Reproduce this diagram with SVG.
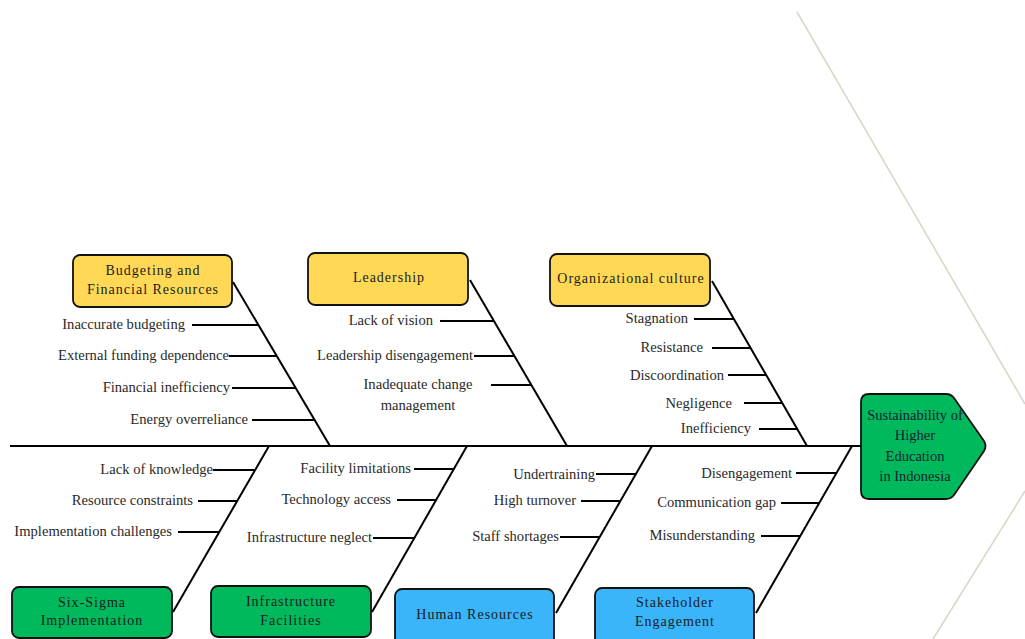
<svg xmlns="http://www.w3.org/2000/svg" width="1025" height="639" viewBox="0 0 1025 639">
  <style>
    .bone { stroke: #000; stroke-width: 2; fill: none; stroke-linecap: butt; }
    .tick { stroke: #000; stroke-width: 2; fill: none; }
    .box { stroke: #111; stroke-width: 1.8; }
    .yellow { fill: #FFD955; }
    .green { fill: #00B95C; }
    .blue { fill: #3AB5FA; }
    .cat { font-family: "Liberation Serif", "Times New Roman", serif; font-size: 14px; letter-spacing: 1px; fill: #1c1c1c; text-anchor: middle; }
    .sub { font-family: "Liberation Serif", "Times New Roman", serif; font-size: 14.6px; fill: #2a2a2a; text-anchor: end; }
    .subc { font-family: "Liberation Serif", "Times New Roman", serif; font-size: 14.6px; fill: #2a2a2a; text-anchor: middle; }
    .head { font-family: "Liberation Serif", "Times New Roman", serif; font-size: 14.5px; fill: #123; text-anchor: middle; }
    .deco { stroke: #DAD7C9; stroke-width: 1.6; fill: none; }
  </style>

  <rect width="1025" height="639" fill="#fff"/>

  <!-- background chevron strokes -->
  <g id="backdrop">
    <line class="deco" x1="797" y1="12" x2="1025" y2="404"/>
    <line class="deco" x1="933" y1="639" x2="1025" y2="491"/>
  </g>

  <!-- spine, bones and cause ticks -->
  <g id="connectors">
    <line class="bone" x1="10" y1="446" x2="861" y2="446"/>

    <!-- upper bones -->
    <line class="bone" x1="233" y1="282" x2="330" y2="446"/>
    <line class="bone" x1="470" y1="280" x2="567" y2="446"/>
    <line class="bone" x1="712" y1="281" x2="807" y2="446"/>

    <!-- lower bones -->
    <line class="bone" x1="173" y1="612" x2="269" y2="446"/>
    <line class="bone" x1="372" y1="612" x2="467" y2="446"/>
    <line class="bone" x1="556" y1="613" x2="652" y2="446"/>
    <line class="bone" x1="756" y1="613" x2="852" y2="446"/>

    <!-- budgeting ticks -->
    <line class="tick" x1="192" y1="325" x2="259" y2="325"/>
    <line class="tick" x1="229" y1="356" x2="277" y2="356"/>
    <line class="tick" x1="232" y1="388" x2="295" y2="388"/>
    <line class="tick" x1="252" y1="420" x2="314" y2="420"/>

    <!-- leadership ticks -->
    <line class="tick" x1="440" y1="321" x2="494" y2="321"/>
    <line class="tick" x1="474" y1="356" x2="514" y2="356"/>
    <line class="tick" x1="491" y1="385" x2="531" y2="385"/>

    <!-- organizational culture ticks -->
    <line class="tick" x1="694" y1="319" x2="734" y2="319"/>
    <line class="tick" x1="712" y1="348" x2="750" y2="348"/>
    <line class="tick" x1="728" y1="375" x2="766" y2="375"/>
    <line class="tick" x1="744" y1="403" x2="782" y2="403"/>
    <line class="tick" x1="759" y1="429" x2="797" y2="429"/>

    <!-- six-sigma ticks -->
    <line class="tick" x1="213" y1="470" x2="255" y2="470"/>
    <line class="tick" x1="198" y1="501" x2="237" y2="501"/>
    <line class="tick" x1="178" y1="532" x2="219" y2="532"/>

    <!-- infrastructure ticks -->
    <line class="tick" x1="414" y1="469" x2="454" y2="469"/>
    <line class="tick" x1="397" y1="500" x2="436" y2="500"/>
    <line class="tick" x1="373" y1="538" x2="414" y2="538"/>

    <!-- human resources ticks -->
    <line class="tick" x1="596" y1="474" x2="636" y2="474"/>
    <line class="tick" x1="581" y1="501" x2="621" y2="501"/>
    <line class="tick" x1="560" y1="537" x2="600" y2="537"/>

    <!-- stakeholder ticks -->
    <line class="tick" x1="796" y1="473" x2="836" y2="473"/>
    <line class="tick" x1="781" y1="503" x2="819" y2="503"/>
    <line class="tick" x1="761" y1="536" x2="800" y2="536"/>
  </g>

  <!-- cause labels -->
  <g id="causes">
    <text class="sub" x="185" y="329">Inaccurate budgeting</text>
    <text class="sub" x="229" y="360">External funding dependence</text>
    <text class="sub" x="230" y="392">Financial inefficiency</text>
    <text class="sub" x="248" y="424">Energy overreliance</text>

    <text class="sub" x="433" y="325">Lack of vision</text>
    <text class="sub" x="473" y="360">Leadership disengagement</text>
    <text class="subc" x="418" y="389">Inadequate change</text>
    <text class="subc" x="418" y="410">management</text>

    <text class="sub" x="688" y="323">Stagnation</text>
    <text class="sub" x="703" y="352">Resistance</text>
    <text class="sub" x="724" y="380">Discoordination</text>
    <text class="sub" x="732" y="408">Negligence</text>
    <text class="sub" x="751" y="433">Inefficiency</text>

    <text class="sub" x="213" y="474">Lack of knowledge</text>
    <text class="sub" x="193" y="505">Resource constraints</text>
    <text class="sub" x="172" y="536">Implementation challenges</text>

    <text class="sub" x="411" y="473">Facility limitations</text>
    <text class="sub" x="391" y="504">Technology access</text>
    <text class="sub" x="372" y="542">Infrastructure neglect</text>

    <text class="sub" x="595" y="479">Undertraining</text>
    <text class="sub" x="576" y="505">High turnover</text>
    <text class="sub" x="559" y="541">Staff shortages</text>

    <text class="sub" x="792" y="478">Disengagement</text>
    <text class="sub" x="776" y="507">Communication gap</text>
    <text class="sub" x="755" y="540">Misunderstanding</text>
  </g>

  <!-- category nodes -->
  <g id="budgeting">
    <rect class="box yellow" x="73" y="255" width="159" height="52" rx="7"/>
    <text class="cat" x="153" y="275">Budgeting and</text>
    <text class="cat" x="153" y="294">Financial Resources</text>
  </g>
  <g id="leadership">
    <rect class="box yellow" x="308" y="253" width="160" height="52" rx="7"/>
    <text class="cat" x="389" y="282">Leadership</text>
  </g>
  <g id="organizational-culture">
    <rect class="box yellow" x="550" y="254" width="160" height="52" rx="7"/>
    <text class="cat" x="631" y="283">Organizational culture</text>
  </g>
  <g id="six-sigma">
    <rect class="box green" x="12" y="587" width="160" height="51" rx="7"/>
    <text class="cat" x="92" y="607">Six-Sigma</text>
    <text class="cat" x="92" y="625">Implementation</text>
  </g>
  <g id="infrastructure">
    <rect class="box green" x="211" y="586" width="160" height="51" rx="7"/>
    <text class="cat" x="291" y="606">Infrastructure</text>
    <text class="cat" x="291" y="625">Facilities</text>
  </g>
  <g id="human-resources">
    <rect class="box blue" x="395" y="589" width="159" height="56" rx="7"/>
    <text class="cat" x="475" y="619">Human Resources</text>
  </g>
  <g id="stakeholder">
    <rect class="box blue" x="595" y="588" width="159" height="57" rx="7"/>
    <text class="cat" x="675" y="607">Stakeholder</text>
    <text class="cat" x="675" y="626">Engagement</text>
  </g>

  <!-- effect node -->
  <g id="effect">
    <path class="box green" d="M869,394 H946 Q951,394 954,398 L984,441 Q987,446 984,451 L954,495 Q951,499 946,499 H869 Q861,499 861,491 V402 Q861,394 869,394 Z"/>
    <text class="head" x="915" y="420">Sustainability of</text>
    <text class="head" x="915" y="440">Higher</text>
    <text class="head" x="915" y="461">Education</text>
    <text class="head" x="915" y="481">in Indonesia</text>
  </g>
</svg>
